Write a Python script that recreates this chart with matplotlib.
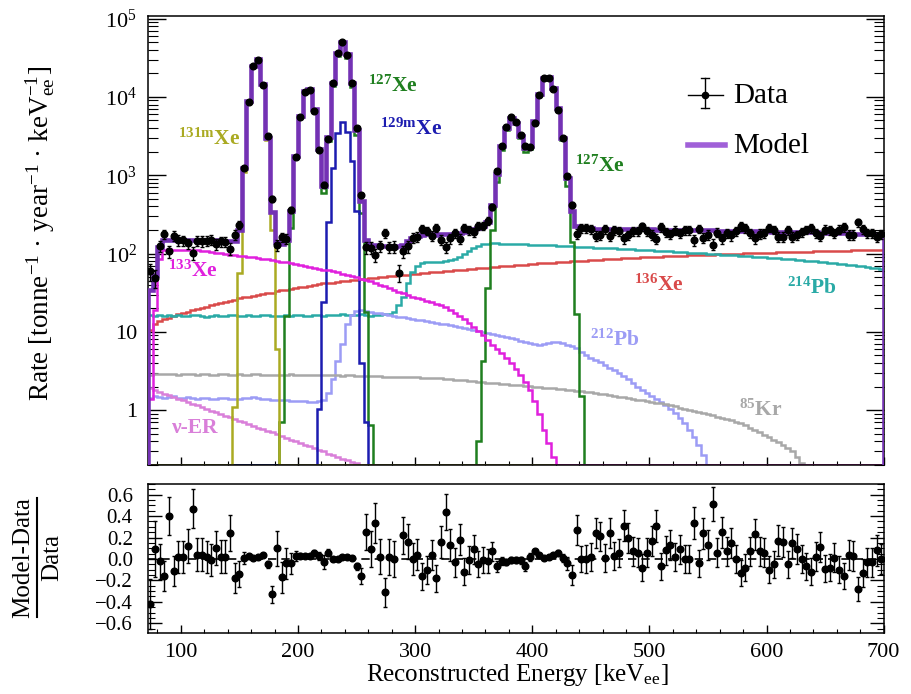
import numpy as np
import matplotlib
matplotlib.use('Agg')
import matplotlib.pyplot as plt
from matplotlib.ticker import FixedLocator, MultipleLocator, FuncFormatter, LogLocator, NullFormatter
from matplotlib.lines import Line2D

plt.rcParams['font.family'] = ['Liberation Serif', 'DejaVu Serif']
plt.rcParams['mathtext.fontset'] = 'custom'
plt.rcParams['mathtext.rm'] = 'Liberation Serif'
plt.rcParams['mathtext.it'] = 'Liberation Serif:italic'
plt.rcParams['mathtext.bf'] = 'Liberation Serif:bold'

# ---------------- binning ----------------
E_MIN, E_MAX, BIN_W = 72, 700, 4
edges = np.arange(E_MIN, E_MAX + BIN_W, BIN_W)
n_bins = len(edges) - 1
centers = edges[:-1] + BIN_W / 2

# ---------------- component spectra (rate per bin) ----------------
xe136 = [10.5, 12.5, 13.8, 14.5, 15.2, 16.0, 16.7, 17.3, 18.2, 18.8,
         19.4, 20.3, 21.0, 21.8, 22.5, 23.5, 24.2, 25.0, 25.8, 26.8,
         27.5, 28.0, 28.8, 29.5, 30.3, 31.0, 31.8, 32.8, 33.8, 34.6,
         35.5, 36.4, 37.0, 37.8, 38.8, 39.6, 40.4, 41.5, 42.0, 42.6,
         43.3, 44.0, 45.0, 46.0, 46.5, 47.3, 48.0, 48.6, 49.2, 50.0,
         50.6, 51.4, 52.0, 52.6, 53.5, 54.0, 54.8, 55.5, 56.3, 57.0,
         57.8, 58.4, 59.0, 59.8, 60.5, 61.2, 62.0, 62.6, 63.3, 64.0,
         64.8, 65.5, 66.0, 67.0, 67.8, 68.5, 69.3, 70.0, 71.0, 71.8,
         72.5, 73.3, 74.0, 74.8, 75.5, 76.2, 76.8, 77.5, 78.2, 78.8,
         79.5, 80.2, 80.8, 81.5, 82.2, 82.9, 83.6, 84.2, 84.9, 85.6,
         86.3, 86.9, 87.6, 88.3, 89.0, 89.5, 90.0, 90.5, 91.0, 91.6,
         92.1, 92.6, 93.1, 93.6, 94.1, 94.6, 95.2, 95.7, 96.2, 96.7,
         97.2, 97.8, 98.3, 98.8, 99.3, 99.8, 100.2, 100.6, 101.0, 101.4,
         101.8, 102.2, 102.5, 102.9, 103.3, 103.7, 104.1, 104.5, 104.9, 105.3,
         105.7, 106.1, 106.4, 106.8, 107.2, 107.6, 108.0, 108.4, 108.8, 109.2,
         109.6, 110.0, 110.3, 110.7, 111.1, 111.5, 112.0]

pb214 = [16.2, 15.8, 16.4, 16.0, 16.3, 15.9, 16.5, 16.1, 15.8, 16.2,
         16.4, 16.0, 15.7, 16.1, 16.3, 15.9, 16.0, 16.4, 16.2, 15.8,
         16.0, 16.3, 16.1, 15.9, 16.2, 16.5, 16.0, 15.8, 16.1, 16.3,
         16.0, 16.4, 16.2, 15.9, 16.1, 16.5, 16.3, 16.0, 16.2, 16.6,
         16.4, 16.8, 16.5, 16.2, 16.4, 16.7, 16.3, 16.0, 16.2, 16.5,
         16.8, 17.0, 18.0, 22.0, 28.0, 42.0, 58.0, 70.0, 76.0, 78.0,
         79.0, 78.0, 79.0, 80.0, 82.0, 85.0, 90.0, 98.0, 108.0, 118.0,
         126.0, 131.0, 134.0, 135.0, 135.0, 134.0, 134.0, 133.0, 132.0, 132.0,
         131.0, 130.0, 129.5, 129.0, 128.3, 127.5, 126.8, 126.0, 125.2, 124.4,
         123.6, 123.0, 122.0, 121.2, 120.4, 119.5, 118.7, 117.9, 117.1, 116.3,
         115.5, 114.6, 113.8, 113.0, 112.1, 111.3, 110.5, 109.7, 108.8, 108.0,
         107.2, 106.4, 105.6, 104.8, 104.0, 103.1, 102.3, 101.5, 100.7, 99.8,
         99.0, 98.2, 97.3, 96.5, 95.7, 94.8, 94.0, 93.1, 92.2, 91.3,
         90.4, 89.5, 88.6, 87.7, 86.8, 85.9, 85.0, 84.1, 83.2, 82.3,
         81.4, 80.5, 79.4, 78.3, 77.2, 76.1, 75.0, 73.9, 72.8, 71.7,
         70.6, 69.5, 68.4, 67.3, 66.2, 65.1, 64.0]

xe133 = [1.4, 19, 86, 112, 113, 112, 112, 111, 111, 110,
         110, 109, 107, 105, 103, 101, 99, 97, 95.5, 94,
         92.5, 91, 89.5, 88, 86.5, 85, 83, 81, 79, 77,
         75, 73, 71, 69, 67, 65.5, 64, 62.5, 61, 59.5,
         57.5, 55.5, 53.5, 51.5, 49.5, 48, 46, 44, 42, 40,
         38, 36, 34, 32.5, 31, 29.5, 28, 27, 26, 25,
         24, 23, 22, 20.5, 19, 17.5, 16, 14.5, 13, 11.5,
         10.4, 9.0, 7.8, 6.8, 6.0, 5.3, 4.6, 4.0, 3.4, 2.8,
         2.3, 1.8, 1.3, 0.9, 0.56, 0.38, 0.25]

pb212 = [1.45, 1.50, 1.48, 1.42, 1.47, 1.50, 1.45, 1.44, 1.46, 1.42,
         1.40, 1.43, 1.45, 1.40, 1.38, 1.42, 1.44, 1.40, 1.38, 1.40,
         1.42, 1.45, 1.47, 1.43, 1.40, 1.38, 1.36, 1.35, 1.37, 1.35,
         1.33, 1.32, 1.30, 1.30, 1.28, 1.27, 1.30, 1.35, 1.65, 2.5,
         4.3, 7.1, 12.8, 16.2, 18.5, 18.8, 18.3, 18.0, 17.6, 17.2,
         16.8, 16.4, 16.0, 15.6, 15.3, 15.0, 14.6, 14.3, 14.0, 13.7,
         13.4, 13.1, 12.8, 12.5, 12.2, 11.9, 11.6, 11.3, 11.0, 10.7,
         10.4, 10.1, 9.8, 9.5, 9.2, 8.9, 8.6, 8.3, 8.0, 7.7,
         7.4, 7.2, 7.0, 6.9, 7.0, 7.2, 7.4, 7.4, 7.2, 6.9,
         6.6, 6.2, 5.6, 5.1, 4.7, 4.4, 4.1, 3.8, 3.5, 3.25,
         3.0, 2.75, 2.5, 2.25, 2.0, 1.8, 1.65, 1.5, 1.38, 1.27,
         1.15, 1.05, 0.92, 0.8, 0.68, 0.56, 0.45, 0.36, 0.27, 0.19]

kr85 = [2.85, 2.90, 2.88, 2.86, 2.90, 2.87, 2.85, 2.88, 2.90, 2.86,
        2.84, 2.87, 2.89, 2.85, 2.83, 2.86, 2.88, 2.84, 2.82, 2.86,
        2.85, 2.83, 2.86, 2.88, 2.84, 2.82, 2.85, 2.83, 2.80, 2.84,
        2.86, 2.82, 2.80, 2.83, 2.81, 2.79, 2.82, 2.80, 2.78, 2.81,
        2.79, 2.77, 2.80, 2.78, 2.76, 2.75, 2.74, 2.73, 2.72, 2.70,
        2.69, 2.68, 2.67, 2.66, 2.65, 2.64, 2.63, 2.62, 2.61, 2.60,
        2.59, 2.57, 2.55, 2.52, 2.49, 2.46, 2.43, 2.40, 2.37, 2.34,
        2.31, 2.28, 2.25, 2.22, 2.20, 2.17, 2.15, 2.12, 2.10, 2.07,
        2.05, 2.02, 2.00, 1.98, 1.95, 1.92, 1.90, 1.87, 1.84, 1.82,
        1.79, 1.77, 1.74, 1.72, 1.70, 1.67, 1.63, 1.60, 1.56, 1.53,
        1.49, 1.46, 1.43, 1.40, 1.37, 1.34, 1.31, 1.28, 1.25, 1.22,
        1.19, 1.16, 1.12, 1.08, 1.05, 1.02, 0.99, 0.96, 0.93, 0.89,
        0.86, 0.83, 0.80, 0.77, 0.74, 0.71, 0.68, 0.64, 0.60, 0.56,
        0.52, 0.48, 0.45, 0.42, 0.39, 0.36, 0.33, 0.30, 0.25, 0.21]

nu_er = [1.90, 1.81, 1.72, 1.63, 1.55, 1.48, 1.41, 1.34, 1.27, 1.21,
         1.15, 1.09, 1.04, 0.99, 0.94, 0.90, 0.85, 0.81, 0.77, 0.73,
         0.70, 0.66, 0.63, 0.60, 0.57, 0.54, 0.52, 0.49, 0.47, 0.44,
         0.42, 0.40, 0.38, 0.36, 0.35, 0.33, 0.31, 0.30, 0.28, 0.27,
         0.25, 0.24, 0.23, 0.22, 0.21, 0.20, 0.19, 0.18, 0.17, 0.16]

xe131m_start = 144
xe131m = [1.1, 57, 1100, 8750, 24600, 30300, 14500, 2850, 200, 6]

xe129m_start = 216
xe129m = [1.05, 24, 250, 1250, 3450, 4850, 3550, 1500, 350, 4, 0.7]

xe127_low_start = 184
xe127_low = [0.7, 16, 215, 1640, 5560, 11650, 12350, 6850, 2060, 590,
             2700, 13600, 33000, 46000, 31300, 13400, 3250, 330, 18, 0.65]

xe127_high_start = 352
xe127_high = [0.4, 4.3, 36, 200, 830, 2130, 3780, 5190, 4490, 2990,
              1990, 2140, 4740, 10690, 17190, 17790, 12790, 6990, 2790, 720,
              140, 17, 1.5]

# (Model - Data) / Data for every bin
residual = [-0.42, 0.09, -0.02, -0.16, 0.40, -0.11, 0.02, 0.02, 0.12, 0.47,
            0.04, 0.04, 0.02, -0.01, 0.10, 0.02, 0.02, 0.24, -0.18, -0.14,
            0.01, 0.03, 0.01, 0.02, 0.04, -0.05, -0.33, 0.10, -0.17, -0.04,
            -0.04, 0.03, 0.03, 0.03, 0.03, 0.06, 0.03, -0.03, 0.06, 0.00,
            0.00, 0.02, 0.02, 0.01, -0.07, -0.16, 0.25, 0.09, 0.34, 0.02,
            -0.31, 0.02, 0.00, 1.20, 0.22, 0.16, 0.00, 0.04, -0.16, -0.10,
            0.04, -0.18, 0.16, 0.44, 0.13, -0.03, 0.18, -0.12, -0.01, 0.09,
            -0.05, -0.01, -0.02, 0.07, -0.07, -0.02, -0.03, -0.01, -0.01, -0.01,
            -0.07, 0.02, 0.07, 0.04, 0.01, 0.02, 0.04, 0.06, 0.01, -0.04,
            -0.15, 0.27, 0.00, 0.00, 0.02, 0.24, 0.21, 0.01, 0.24, 0.03,
            0.06, 0.31, 0.20, 0.07, 0.06, -0.08, 0.06, 0.17, 0.31, -0.07,
            0.08, 0.13, 0.02, 0.09, 0.00, 0.00, 0.34, -0.04, 0.24, 0.13,
            0.51, 0.06, 0.25, 0.07, 0.15, 0.00, -0.13, -0.08, 0.07, 0.23,
            0.07, 0.06, -0.10, -0.05, 0.17, 0.16, -0.05, 0.15, 0.09, 0.00,
            -0.07, -0.12, 0.02, 0.11, -0.09, -0.08, 0.01, -0.10, -0.16, 0.04,
            0.03, -0.28, -0.13, -0.03, -0.03, 0.08, 0.00]

EXPOSURE = 0.3  # tonne*year*keV per bin -> counts = rate * EXPOSURE


def place(values, start=E_MIN):
    arr = np.zeros(n_bins)
    i0 = (start - E_MIN) // BIN_W
    arr[i0:i0 + len(values)] = values
    return arr


comp = {
    '136Xe': (place(xe136), '#d94a4a'),
    '214Pb': (place(pb214), '#2aaaa6'),
    '212Pb': (place(pb212), '#9c9cf5'),
    '85Kr': (place(kr85), '#a8a8a8'),
    'nuER': (place(nu_er), '#d97fd9'),
    '127Xe': (place(xe127_low, xe127_low_start) + place(xe127_high, xe127_high_start), '#1f7f1f'),
    '129mXe': (place(xe129m, xe129m_start), '#1c1cb0'),
    '131mXe': (place(xe131m, xe131m_start), '#aaaa22'),
    '133Xe': (place(xe133), '#e020dd'),
}

model = np.sum([v for v, c in comp.values()], axis=0)
resid = np.array(residual)
data = model / (1.0 + resid)
rel_err = 1.0 / np.sqrt(data * EXPOSURE)

YMIN, YMAX = 0.2, 1.08e5

fig = plt.figure(figsize=(9.11, 6.94), dpi=100)
ax1 = fig.add_axes([0.1625, 0.330, 0.8075, 0.647])
ax2 = fig.add_axes([0.1625, 0.088, 0.8075, 0.2146])

for name, (vals, col) in comp.items():
    ax1.stairs(np.maximum(vals, YMIN), edges, baseline=YMIN, color=col, lw=1.8, zorder=2)

ax1.stairs(np.maximum(model, YMIN), edges, baseline=YMIN, color='#7432b4', lw=3.3, zorder=3)
ax1.errorbar(centers, data, yerr=data * rel_err, fmt='o', color='black', ms=4.8,
             elinewidth=1.0, capsize=1.6, capthick=1.0, zorder=5)

ax1.set_yscale('log')
ax1.set_xlim(E_MIN, E_MAX)
ax1.set_ylim(YMIN, YMAX)


def ylab(v, p):
    if v == 1:
        return '1'
    if v == 10:
        return '10'
    return r'$10^{%d}$' % round(np.log10(v))


ax1.yaxis.set_major_locator(FixedLocator([1, 10, 100, 1e3, 1e4, 1e5]))
ax1.yaxis.set_major_formatter(FuncFormatter(ylab))
ax1.yaxis.set_minor_locator(LogLocator(base=10, subs=np.arange(2, 10), numticks=100))
ax1.yaxis.set_minor_formatter(NullFormatter())
ax1.xaxis.set_major_locator(MultipleLocator(100))
ax1.xaxis.set_minor_locator(MultipleLocator(20))
ax1.tick_params(axis='y', which='both', direction='in', left=True, right=True)
ax1.tick_params(axis='y', which='major', length=13, width=1, labelsize=16, pad=8)
ax1.tick_params(axis='y', which='minor', length=7, width=0.8)
ax1.tick_params(axis='x', which='both', direction='in', bottom=True, top=False, labelbottom=False)
ax1.tick_params(axis='x', which='major', length=6, width=1)
ax1.tick_params(axis='x', which='minor', length=3, width=0.8)

# component labels
labels = [
    (r'$\mathbf{{}^{131m}Xe}$', 124, 2900, '#aaaa22'),
    (r'$\mathbf{{}^{127}Xe}$', 281, 13800, '#1f7f1f'),
    (r'$\mathbf{{}^{129m}Xe}$', 297, 3900, '#1c1cb0'),
    (r'$\mathbf{{}^{127}Xe}$', 458, 1320, '#1f7f1f'),
    (r'$\mathbf{{}^{133}Xe}$', 110, 60, '#e020dd'),
    (r'$\mathbf{{}^{136}Xe}$', 508, 40, '#d94a4a'),
    (r'$\mathbf{{}^{214}Pb}$', 639, 35.8, '#2aaaa6'),
    (r'$\mathbf{{}^{212}Pb}$', 470, 7.8, '#9c9cf5'),
    (r'$\mathbf{{}^{85}Kr}$', 595, 1.0, '#a8a8a8'),
]
for txt, x, y, col in labels:
    ax1.text(x, y, txt, color=col, fontsize=15.5, ha='center', va='center')
ax1.text(112, 0.59, 'ν-ER', color='#d97fd9', fontsize=15.5, fontweight='bold', ha='center', va='center')

# legend (drawn manually)
tA = ax1.transAxes
ax1.plot([0.734, 0.781], [0.824, 0.824], color='k', lw=1.0, transform=tA)
ax1.plot([0.7575, 0.7575], [0.795, 0.862], color='k', lw=1.0, transform=tA)
ax1.plot([0.752, 0.763], [0.795, 0.795], color='k', lw=1.0, transform=tA)
ax1.plot([0.752, 0.763], [0.862, 0.862], color='k', lw=1.0, transform=tA)
ax1.plot([0.7575], [0.824], 'o', color='k', ms=4.5, transform=tA)
ax1.plot([0.734, 0.784], [0.713, 0.713], color='#a060d8', lw=4, transform=tA)
ax1.text(0.795, 0.822, 'Data', transform=tA, fontsize=21, va='center', ha='left')
ax1.text(0.795, 0.711, 'Model', transform=tA, fontsize=21, va='center', ha='left')

# ---------------- residual panel ----------------
ax2.axhline(0, color='k', lw=1.2, ls=(0, (5, 3)), zorder=1)
ax2.errorbar(centers, resid, yerr=rel_err, fmt='o', color='black', ms=4.8,
             elinewidth=1.0, capsize=1.6, capthick=1.0, zorder=5)
ax2.set_xlim(E_MIN, E_MAX)
ax2.set_ylim(-0.69, 0.70)
ax2.yaxis.set_major_locator(FixedLocator([-0.6, -0.4, -0.2, 0.0, 0.2, 0.4, 0.6]))
ax2.yaxis.set_minor_locator(MultipleLocator(0.05))


def rlab(v, p):
    s = '%.1f' % v
    if s == '-0.0':
        s = '0.0'
    return s.replace('-', '\u2212')


ax2.yaxis.set_major_formatter(FuncFormatter(rlab))
ax2.xaxis.set_major_locator(MultipleLocator(100))
ax2.xaxis.set_minor_locator(MultipleLocator(20))
ax2.tick_params(axis='y', which='both', direction='in', left=True, right=True)
ax2.tick_params(axis='y', which='major', length=10, width=1, labelsize=15, pad=11)
ax2.tick_params(axis='y', which='minor', length=5, width=0.8)
ax2.tick_params(axis='x', which='both', direction='in', bottom=True, top=False)
ax2.tick_params(axis='x', which='major', length=6, width=1, labelsize=16, pad=7)
ax2.tick_params(axis='x', which='minor', length=3, width=0.8)

for ax in (ax1, ax2):
    for s in ax.spines.values():
        s.set_linewidth(1.1)

# axis titles
fig.text(0.568, 0.027, r'Reconstructed Energy [keV$_{\mathrm{ee}}$]', ha='center', va='center', fontsize=18)
fig.text(0.044, 0.664, r'Rate [tonne$^{-1}$ · year$^{-1}$ · keV$^{-1}_{\mathrm{ee}}$]',
         rotation=90, ha='center', va='center', fontsize=19.5)
fig.text(0.026, 0.197, 'Model-Data', rotation=90, ha='center', va='center', fontsize=18)
fig.text(0.057, 0.197, 'Data', rotation=90, ha='center', va='center', fontsize=18)
fig.add_artist(Line2D([0.0406, 0.0406], [0.111, 0.282], transform=fig.transFigure, color='k', lw=1.5))

fig.savefig('out.png', dpi=100)
